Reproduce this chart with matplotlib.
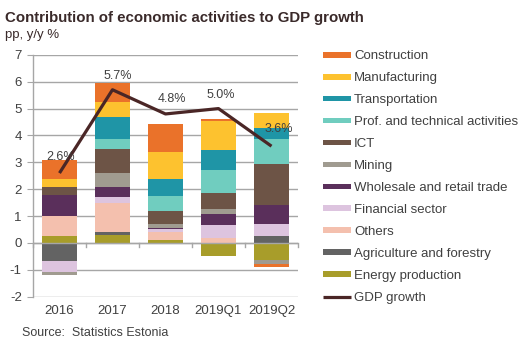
import matplotlib
matplotlib.use("Agg")
import matplotlib.pyplot as plt
import numpy as np

plt.rcParams['font.family'] = ['Liberation Sans', 'DejaVu Sans']
plt.rcParams['axes.unicode_minus'] = False

categories = ["2016", "2017", "2018", "2019Q1", "2019Q2"]

# contributions in percentage points (stacking order: bottom to top)
energy        = [0.27, 0.29, 0.12, -0.49, -0.63]
agriculture   = [-0.69, 0.11, 0.00, 0.00, 0.27]
others        = [0.72, 1.09, 0.28, 0.17, 0.00]
financial     = [-0.39, 0.22, 0.12, 0.49, 0.42]
wholesale     = [0.78, 0.36, 0.05, 0.41, 0.72]
mining        = [-0.12, 0.52, 0.14, 0.19, -0.16]
ict           = [0.30, 0.89, 0.46, 0.59, 1.54]
prof          = [0.00, 0.37, 0.59, 0.88, 0.90]
transport     = [0.00, 0.82, 0.61, 0.71, 0.41]
manufacturing = [0.31, 0.59, 1.00, 1.08, 0.58]
construction  = [0.69, 0.68, 1.07, 0.11, -0.10]

gdp_growth = [2.6, 5.7, 4.8, 5.0, 3.6]
gdp_labels = ["2.6%", "5.7%", "4.8%", "5.0%", "3.6%"]

series = [
    ("Energy production", energy, "#A89D2A"),
    ("Agriculture and forestry", agriculture, "#636363"),
    ("Others", others, "#F4C0AE"),
    ("Financial sector", financial, "#DDC4DF"),
    ("Wholesale and retail trade", wholesale, "#5A2F5B"),
    ("Mining", mining, "#A09B90"),
    ("ICT", ict, "#6D5446"),
    ("Prof. and technical activities", prof, "#70CDBF"),
    ("Transportation", transport, "#1F95A6"),
    ("Manufacturing", manufacturing, "#FDC22F"),
    ("Construction", construction, "#EA722A"),
]

fig = plt.figure(figsize=(5.31, 3.47), dpi=100)
ax = fig.add_axes([0.0621, 0.145, 0.4991, 0.697])

x = np.arange(len(categories))
pos_base = np.zeros(len(categories))
neg_base = np.zeros(len(categories))
bar_handles = []
for name, vals, color in series:
    v = np.array(vals, dtype=float)
    bottoms = np.where(v >= 0, pos_base, neg_base)
    b = ax.bar(x, v, width=0.66, bottom=bottoms, color=color, label=name,
               zorder=3, linewidth=0)
    bar_handles.append(b)
    pos_base += np.where(v >= 0, v, 0)
    neg_base += np.where(v < 0, v, 0)

line, = ax.plot(x, gdp_growth, color="#4A2626", linewidth=2.3, zorder=5,
                label="GDP growth", solid_capstyle="butt")

label_offsets = [(1, 10), (5, 8), (6, 9), (2, 8), (7, 11)]
for xi, yi, txt, off in zip(x, gdp_growth, gdp_labels, label_offsets):
    ax.annotate(txt, (xi, yi), xytext=off, textcoords="offset pixels",
                ha="center", va="bottom", fontsize=9, color="#404040", zorder=6)

ax.set_xlim(-0.5, len(categories) - 0.5)
ax.set_ylim(-2, 7)
ax.set_yticks(np.arange(-2, 8, 1))
ax.yaxis.grid(True, color="#A6A6A6", linewidth=1.0, zorder=0)
ax.set_axisbelow(True)

for side in ["top", "right", "bottom"]:
    ax.spines[side].set_visible(False)
ax.spines["left"].set_color("#A6A6A6")
ax.spines["left"].set_linewidth(1.0)
ax.tick_params(axis="y", direction="out", length=4, color="#A6A6A6",
               labelsize=9.5, labelcolor="#404040", pad=4)

ax.set_xticks(x)
ax.set_xticklabels(categories)
ax.tick_params(axis="x", length=0, labelsize=9.5, labelcolor="#404040", pad=6)

# category axis drawn at zero, with ticks between categories
ax.axhline(0, color="#A6A6A6", linewidth=1.0, zorder=4)
for b in np.arange(-0.5, len(categories), 1.0):
    ax.plot([b, b], [0, -0.15], color="#A6A6A6", linewidth=1.0, zorder=4,
            clip_on=False)

handles = [bh for bh in bar_handles[::-1]] + [line]
labels = [s[0] for s in series[::-1]] + ["GDP growth"]
leg = fig.legend(handles, labels, loc="upper left",
                 bbox_to_anchor=(0.598, 0.870), frameon=False, fontsize=9.5,
                 handlelength=2.13, handleheight=0.3, handletextpad=0.24,
                 labelspacing=0.755, borderaxespad=0)
for t in leg.get_texts():
    t.set_color("#404040")

fig.text(0.009, 0.947, "Contribution of economic activities to GDP growth",
         fontsize=10.8, fontweight="bold", color="#3A2A2A", ha="left", va="center")
fig.text(0.009, 0.899, "pp, y/y %", fontsize=9.5, color="#3A2A2A",
         ha="left", va="center")
fig.text(0.042, 0.040, "Source:  Statistics Estonia", fontsize=9,
         color="#404040", ha="left", va="center")

fig.savefig("out.png", dpi=100)
